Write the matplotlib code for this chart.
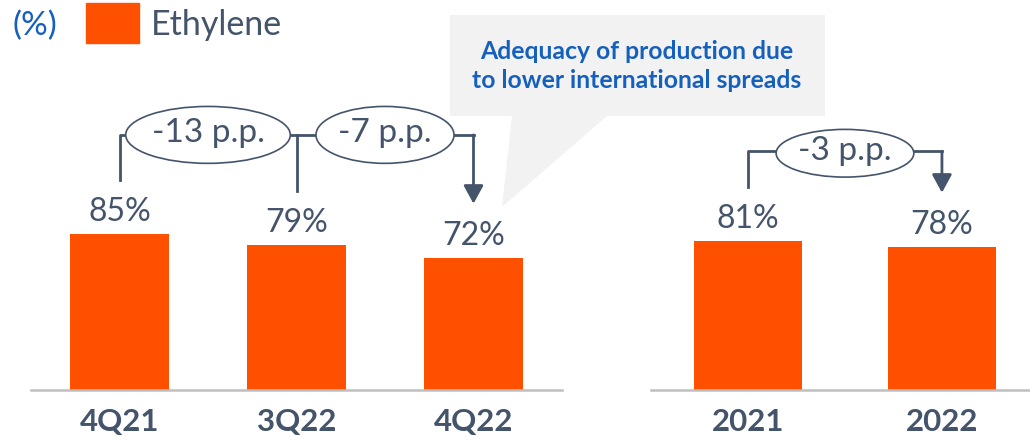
import numpy as np
import matplotlib.pyplot as plt
from matplotlib.patches import Ellipse, Rectangle, Polygon

plt.rcParams['font.family'] = ['Lato', 'DejaVu Sans']

# data
quarters = ['4Q21', '3Q22', '4Q22']
quarter_vals = [85, 79, 72]
years = ['2021', '2022']
year_vals = [81, 78]

series_name = 'Ethylene'
unit_label = '(%)'
callout_text = 'Adequacy of production due\nto lower international spreads'

# style
BAR = '#FF5000'
TXT = '#44546A'
BLUE = '#1560BD'
BASE = '#BFBFBF'
W, H = 1030, 440
YMAX = 212.5
LIFT = 29.5  # gap between value and bracket end


fig = plt.figure(figsize=(W / 100, H / 100), dpi=100)


def px_axes(left, right, top=0, bottom=390):
    return fig.add_axes([left / W, (H - bottom) / H, (right - left) / W, (bottom - top) / H])


def setup(ax, labels, vals, xmax):
    x = np.arange(len(vals))
    ax.bar(x, vals, width=0.555, color=BAR, zorder=2)
    ax.set_xlim(-0.5, xmax)
    ax.set_ylim(0, YMAX)
    for s in ['left', 'right', 'top']:
        ax.spines[s].set_visible(False)
    ax.spines['bottom'].set_color(BASE)
    ax.spines['bottom'].set_linewidth(1.8)
    ax.set_yticks([])
    ax.set_xticks(x)
    ax.set_xticklabels(labels, fontsize=22.5, fontweight='bold', color=TXT)
    ax.tick_params(axis='x', length=0, pad=13)
    ax.patch.set_visible(False)
    for xi, v in zip(x, vals):
        ax.annotate(f'{v}%', (xi, v), xytext=(0, 9.5), textcoords='offset points',
                    ha='center', va='baseline', fontsize=23, color=TXT)
    return x


def pill(ax, xc, y, w, h, label):
    ax.add_patch(Ellipse((xc, y), w, h, facecolor='white', edgecolor=TXT, lw=1.2, zorder=5))
    ax.text(xc, y + 1, label, ha='center', va='center', fontsize=24, color=TXT, zorder=6)


def arrow_down(ax, xi, ytop, yend):
    ax.annotate('', xy=(xi, yend), xytext=(xi, ytop),
                arrowprops=dict(arrowstyle='-|>,head_length=1.1,head_width=0.6',
                                color=TXT, lw=2, shrinkA=0, shrinkB=0), zorder=4)


# left panel: quarters
ax1 = px_axes(31, 562)
xq = setup(ax1, quarters, quarter_vals, 2.5)
yb = 139
ax1.plot([xq[0], xq[0], xq[2]], [quarter_vals[0] + LIFT, yb, yb], color=TXT, lw=2, zorder=4)
ax1.plot([xq[1], xq[1]], [yb, quarter_vals[1] + LIFT], color=TXT, lw=2, zorder=4)
arrow_down(ax1, xq[2], yb, quarter_vals[2] + LIFT)
pill(ax1, 0.5, yb, 0.93, 31, f'{quarter_vals[2] - quarter_vals[0]} p.p.')
pill(ax1, 1.5, yb, 0.78, 31, f'{quarter_vals[2] - quarter_vals[1]} p.p.')

# right panel: years
ax2 = px_axes(651, 1030)
xy = setup(ax2, years, year_vals, 1.454)
yb2 = 130
ax2.plot([xy[0], xy[0], xy[1]], [year_vals[0] + LIFT, yb2, yb2], color=TXT, lw=2, zorder=4)
arrow_down(ax2, xy[1], yb2, year_vals[1] + LIFT)
pill(ax2, 0.5, yb2 - 1, 0.71, 26, f'{year_vals[1] - year_vals[0]} p.p.')

# overlay for legend and callout (pixel coords)
ov = fig.add_axes([0, 0, 1, 1])
ov.set_xlim(0, W)
ov.set_ylim(H, 0)
ov.axis('off')
ov.patch.set_visible(False)

ov.text(12, 26, unit_label, ha='left', va='center', fontsize=24, color=BLUE)
ov.add_patch(Rectangle((86, 3), 53, 40, color=BAR))
ov.text(151, 25, series_name, ha='left', va='center', fontsize=24.5, color=TXT)

ov.add_patch(Polygon([(450, 15), (825, 15), (825, 116), (607, 116), (502, 207),
                      (512, 116), (450, 116)], closed=True, facecolor='#F2F2F2', edgecolor='none'))
ov.text(637, 66, callout_text, ha='center', va='center', fontsize=17.8, fontweight='bold',
        color=BLUE, linespacing=1.3)

fig.savefig('out.png', dpi=100)
